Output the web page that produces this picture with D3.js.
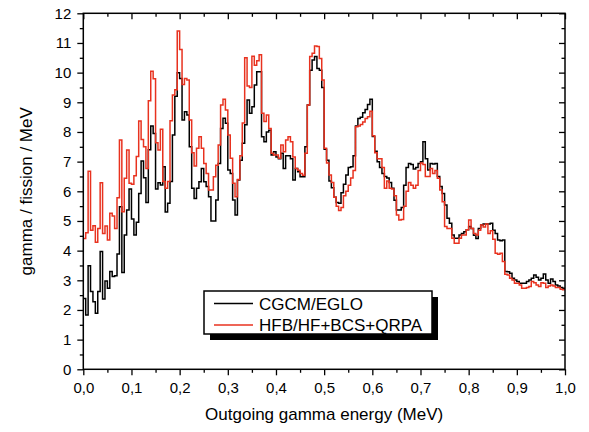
<!DOCTYPE html>
<html>
<head>
<meta charset="utf-8">
<script src="https://cdn.jsdelivr.net/npm/d3@7"></script>
<style>
  body { margin: 0; background: #fff; }
  text { font-family: "Liberation Sans", Arial, sans-serif; fill: #000; }
</style>
</head>
<body>
<div id="chart"></div>
<script>
// histogram bins of 0.005 MeV
var binWidth = 0.005;

var cgcmEglo = [
  2.39, 1.83, 3.49, 2.62, 2.28, 1.89, 2.62, 3.97, 2.37, 2.98,
  2.73, 3.30, 3.13, 3.15, 3.89, 5.48, 3.26, 4.53, 5.37, 6.08,
  5.07, 4.53, 4.96, 5.93, 7.02, 6.46, 5.62, 7.40, 8.20, 7.95,
  6.08, 6.29, 6.21, 6.83, 5.30, 5.60, 6.33, 7.90, 9.20, 10.00,
  9.80, 8.40, 8.68, 8.57, 7.50, 6.10, 5.76, 6.10, 6.32, 6.77,
  6.32, 6.16, 5.82, 5.00, 5.00, 5.71, 6.94, 8.12, 8.46, 8.29,
  6.72, 6.60, 5.71, 5.20, 6.38, 7.05, 7.62, 8.24, 9.08, 8.63,
  8.85, 9.58, 10.03, 10.03, 7.84, 7.67, 8.00, 8.06, 7.22, 7.33,
  7.16, 7.10, 7.28, 6.77, 7.20, 7.20, 7.10, 6.38, 6.77, 6.66,
  6.49, 6.49, 7.50, 8.91, 10.08, 10.43, 10.54, 10.14, 10.08, 9.50,
  7.42, 7.05, 6.35, 6.12, 5.80, 5.62, 5.60, 5.95, 6.24, 6.55,
  6.80, 6.83, 7.20, 8.20, 8.45, 8.50, 8.65, 8.76, 8.93, 9.10,
  7.85, 7.35, 7.00, 6.80, 6.60, 6.50, 6.45, 6.30, 6.10, 5.70,
  5.37, 5.37, 5.45, 6.20, 6.80, 6.94, 6.90, 6.75, 6.80, 6.94,
  7.00, 7.67, 7.10, 6.72, 6.94, 6.92, 6.94, 6.50, 6.16, 5.93,
  5.54, 5.09, 4.92, 4.53, 4.42, 4.42, 4.53, 4.58, 4.64, 4.70,
  4.81, 4.75, 4.52, 4.41, 4.75, 4.86, 4.90, 4.90, 4.90, 4.92,
  4.69, 4.58, 4.36, 4.33, 4.36, 3.30, 3.29, 3.24, 3.07, 3.01,
  2.96, 2.90, 2.90, 2.90, 2.96, 3.01, 3.07, 3.18, 3.10, 3.01,
  3.07, 3.21, 3.01, 2.90, 3.04, 2.96, 2.84, 2.81, 2.76, 2.73
];

var hfbQrpa = [
  4.41, 4.60, 6.68, 4.69, 4.84, 4.28, 4.75, 6.29, 4.58, 4.83,
  4.36, 5.26, 5.17, 4.75, 5.78, 7.73, 5.31, 6.44, 7.39, 6.27,
  6.24, 6.52, 7.17, 8.37, 7.75, 7.50, 6.77, 9.05, 10.05, 9.79,
  7.64, 7.39, 8.09, 6.33, 6.10, 6.33, 8.38, 9.25, 9.42, 11.40,
  10.78, 9.60, 9.80, 9.75, 8.40, 7.30, 6.85, 7.45, 7.84, 7.45,
  6.94, 6.60, 6.04, 6.04, 6.49, 6.88, 7.56, 8.91, 9.10, 8.74,
  7.90, 7.11, 6.27, 5.82, 6.40, 7.20, 8.30, 10.50, 9.55, 9.50,
  10.55, 10.25, 10.40, 10.60, 8.63, 8.35, 8.57, 8.12, 7.28, 7.22,
  7.22, 7.11, 7.56, 7.33, 7.73, 7.84, 7.67, 7.16, 6.77, 6.71,
  6.60, 6.54, 7.28, 8.91, 10.54, 10.65, 10.90, 10.88, 10.48, 9.75,
  7.45, 6.95, 6.55, 6.30, 5.80, 5.50, 5.35, 5.45, 5.85, 6.00,
  6.20, 6.45, 6.70, 8.18, 8.20, 8.25, 8.34, 8.45, 8.51, 8.70,
  7.87, 7.30, 7.10, 7.10, 6.80, 6.10, 6.35, 6.10, 6.08, 5.85,
  5.20, 5.03, 5.05, 5.50, 6.00, 6.30, 6.20, 6.10, 6.20, 6.70,
  6.95, 6.90, 6.50, 6.50, 6.77, 6.60, 6.70, 6.44, 6.04, 5.65,
  4.81, 4.75, 4.75, 4.42, 4.25, 4.25, 4.42, 4.53, 4.53, 4.70,
  5.03, 4.75, 4.58, 4.53, 4.69, 4.86, 4.80, 4.90, 4.58, 4.67,
  4.38, 3.91, 3.88, 3.91, 3.63, 3.20, 3.18, 3.07, 3.01, 2.90,
  2.90, 2.84, 2.73, 2.73, 2.76, 2.79, 2.96, 2.92, 2.84, 2.79,
  2.92, 2.90, 2.76, 2.81, 2.84, 2.81, 2.76, 2.76, 2.70, 2.68
];

var seriesNames = ["CGCM/EGLO", "HFB/HF+BCS+QRPA"];
var seriesColors = ["#000000", "#e8321f"];

var xTicks = [0, 0.1, 0.2, 0.3, 0.4, 0.5, 0.6, 0.7, 0.8, 0.9, 1.0];
var yTicks = [0, 1, 2, 3, 4, 5, 6, 7, 8, 9, 10, 11, 12];

var xTitle = "Outgoing gamma energy (MeV)";
var yTitle = "gamma / fission / MeV";

var margin = { top: 13.3, right: 24, bottom: 62.7, left: 83.3 },
  width = 589 - margin.left - margin.right,
  height = 432 - margin.top - margin.bottom;

var x = d3.scaleLinear().domain([0, 1]).range([0, width]);
var y = d3.scaleLinear().domain([0, 12]).range([height, 0]);

var comma = d3.formatLocale({ decimal: ",", thousands: ".", grouping: [3], currency: ["", ""] });
var fmtX = comma.format(".1f");

var svg = d3
  .select("#chart")
  .append("svg")
  .attr("width", 589)
  .attr("height", 432)
  .append("g")
  .attr("transform", "translate(" + margin.left + "," + margin.top + ")");

svg
  .append("defs")
  .append("clipPath")
  .attr("id", "clip")
  .append("rect")
  .attr("width", width)
  .attr("height", height);

// turn bin values into step points, closing the last bin at its right edge
function steps(vals) {
  var pts = vals.map(function(v, i) {
    return { e: i * binWidth, v: v };
  });
  pts.push({ e: vals.length * binWidth, v: vals[vals.length - 1] });
  return pts;
}

var stepLine = d3
  .line()
  .x(function(d) {
    return x(d.e);
  })
  .y(function(d) {
    return y(d.v);
  })
  .curve(d3.curveStepAfter);

var plot = svg.append("g").attr("clip-path", "url(#clip)");

[cgcmEglo, hfbQrpa].forEach(function(vals, k) {
  plot
    .append("path")
    .attr("d", stepLine(steps(vals)))
    .attr("fill", "none")
    .attr("stroke", seriesColors[k])
    .attr("stroke-width", 1.5)
    .attr("stroke-linejoin", "miter");
});

// axes: major + minor ticks, outside on bottom/left, inside on top/right
var xMinor = d3.range(0.05, 1, 0.1);
var yMinor = d3.range(0.5, 12, 1);

function styleAxis(g) {
  g.select(".domain").remove();
  g.selectAll("line").attr("stroke", "#000").attr("stroke-width", 1.3);
  g.selectAll("text").style("font-size", "15px").style("font-family", '"Liberation Sans", Arial, sans-serif');
}

svg
  .append("g")
  .attr("transform", "translate(0," + height + ")")
  .call(d3.axisBottom(x).tickValues(xTicks).tickFormat(fmtX).tickSize(6).tickPadding(7))
  .call(styleAxis);
svg
  .append("g")
  .attr("transform", "translate(0," + height + ")")
  .call(d3.axisBottom(x).tickValues(xMinor).tickFormat("").tickSize(3.5))
  .call(styleAxis);

svg
  .append("g")
  .call(d3.axisLeft(y).tickValues(yTicks).tickFormat(d3.format("d")).tickSize(6).tickPadding(6))
  .call(styleAxis);
svg
  .append("g")
  .call(d3.axisLeft(y).tickValues(yMinor).tickFormat("").tickSize(3.5))
  .call(styleAxis);

svg
  .append("g")
  .call(d3.axisTop(x).tickValues(xTicks).tickFormat("").tickSize(-6))
  .call(styleAxis);
svg
  .append("g")
  .call(d3.axisTop(x).tickValues(xMinor).tickFormat("").tickSize(-3.5))
  .call(styleAxis);

svg
  .append("g")
  .attr("transform", "translate(" + width + ",0)")
  .call(d3.axisRight(y).tickValues(yTicks).tickFormat("").tickSize(-6))
  .call(styleAxis);
svg
  .append("g")
  .attr("transform", "translate(" + width + ",0)")
  .call(d3.axisRight(y).tickValues(yMinor).tickFormat("").tickSize(-3.5))
  .call(styleAxis);

svg
  .append("rect")
  .attr("width", width)
  .attr("height", height)
  .attr("fill", "none")
  .attr("stroke", "#000")
  .attr("stroke-width", 1.5);

// titles
svg
  .append("text")
  .attr("x", width / 2)
  .attr("y", height + 50.7)
  .attr("text-anchor", "middle")
  .style("font-size", "17px")
  .text(xTitle);

svg
  .append("text")
  .attr("transform", "translate(" + (32 - margin.left) + "," + height / 2 + ") rotate(-90)")
  .attr("text-anchor", "middle")
  .style("font-size", "17px")
  .text(yTitle);

// legend with drop shadow
var lg = svg.append("g").attr("transform", "translate(" + (204 - margin.left) + "," + (291 - margin.top) + ")");
var lgW = 228,
  lgH = 43;

lg.append("rect")
  .attr("x", 6)
  .attr("y", 6)
  .attr("width", lgW)
  .attr("height", lgH)
  .attr("fill", "#000");
lg.append("rect")
  .attr("width", lgW)
  .attr("height", lgH)
  .attr("fill", "#fff")
  .attr("stroke", "#000")
  .attr("stroke-width", 1.5);

seriesNames.forEach(function(name, k) {
  var ly = 12.5 + k * 21.5;
  lg.append("line")
    .attr("x1", 10)
    .attr("x2", 49)
    .attr("y1", ly)
    .attr("y2", ly)
    .attr("stroke", seriesColors[k])
    .attr("stroke-width", 1.5);
  lg.append("text")
    .attr("x", 55)
    .attr("y", ly + 6.3)
    .style("font-size", "17px")
    .text(name);
});
</script>
</body>
</html>
